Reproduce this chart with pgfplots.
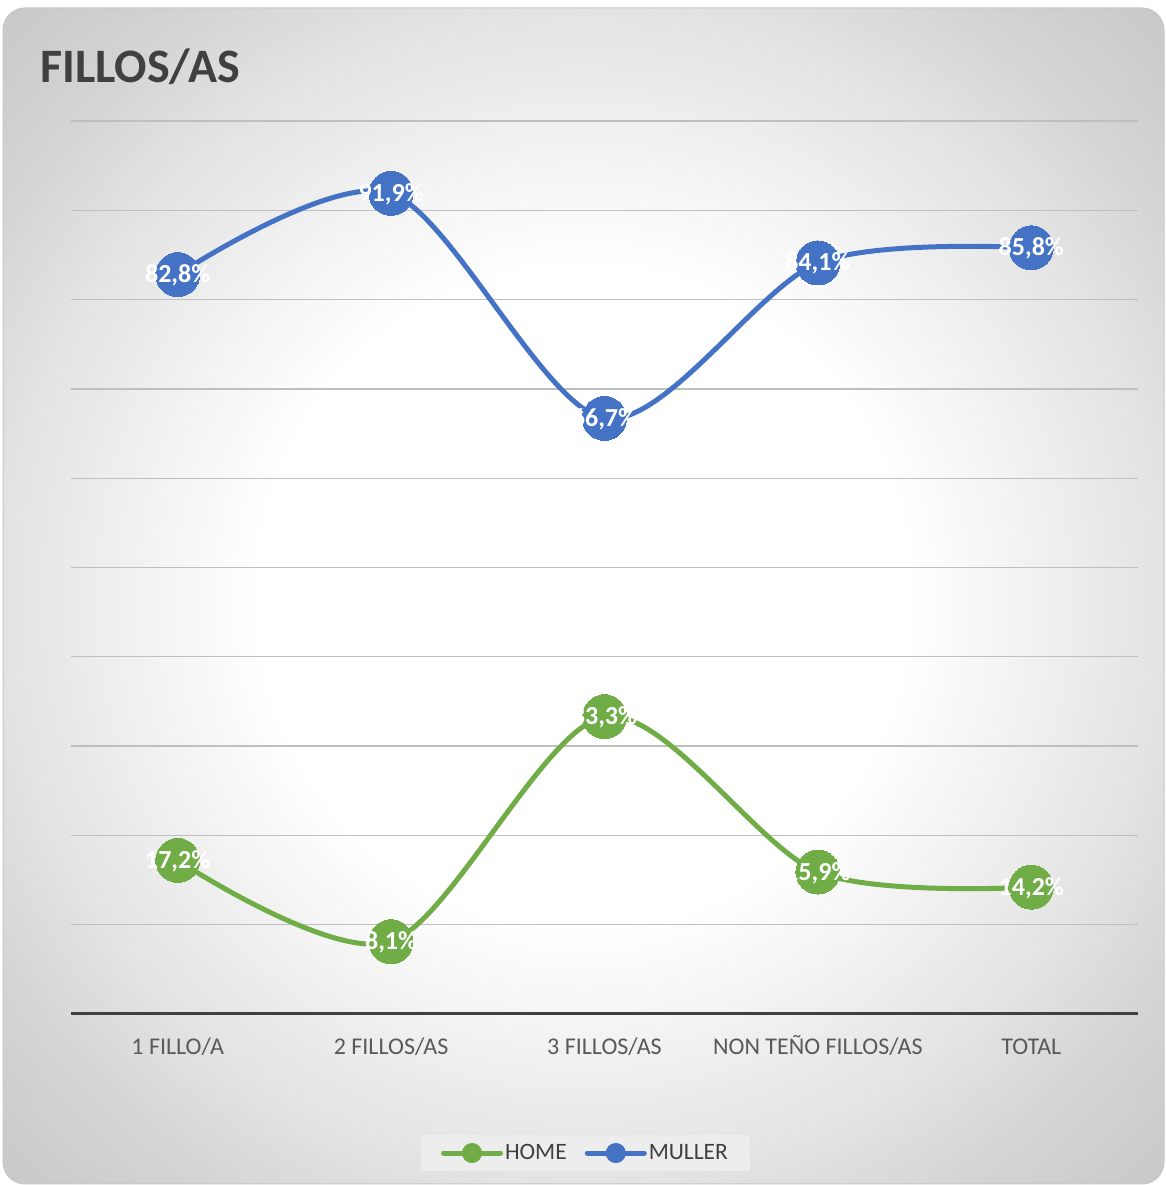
\documentclass[border=0pt]{standalone}
\usepackage{fontspec}
\setmainfont{Carlito}
\usepackage{pgfplots}
\pgfplotsset{compat=1.18}
\definecolor{cblue}{HTML}{4472C4}
\definecolor{cgreen}{HTML}{70AD47}
\definecolor{ctxt}{HTML}{404040}
\definecolor{ctick}{HTML}{595959}
\definecolor{cgrid}{HTML}{BFBFBF}
\pgfdeclareradialshading{bgshade}{\pgfpoint{0bp}{0bp}}{color(0bp)=(white); color(14bp)=(white); color(22bp)=(black!8); color(25bp)=(black!11); color(30bp)=(black!17); color(36bp)=(black!22); color(50bp)=(black!22)}
\begin{document}
\begin{tikzpicture}
\useasboundingbox (0pt,0pt) rectangle (1165pt,1185pt);
\shade[shading=bgshade, rounded corners=22pt] (3pt,1pt) rectangle (1164pt,1177pt);
\draw[black!22, line width=1pt, rounded corners=22pt] (3pt,1pt) rectangle (1164pt,1177pt);
\node[anchor=base west, text=ctxt, font=\bfseries\fontsize{48}{58}\selectfont, inner sep=0pt] at (40pt,1102pt) {FILLOS/AS};
\begin{axis}[
  at={(71pt,171pt)}, anchor=south west,
  width=1067pt, height=893pt, scale only axis,
  xmin=-0.5, xmax=4.5, ymin=0, ymax=100,
  clip=false,
  axis x line*=bottom, axis y line*=left,
  x axis line style={draw=ctxt, line width=3pt},
  y axis line style={draw=none},
  ytick={10,20,...,100}, yticklabels={},
  ymajorgrids, grid style={draw=cgrid, line width=1.3pt},
  major tick length=0pt,
  xtick={0,1,2,3,4},
  xticklabels={1 FILLO/A, 2 FILLOS/AS, 3 FILLOS/AS, NON TEÑO FILLOS/AS, TOTAL},
  xticklabel style={text=ctick, font=\fontsize{24}{28}\selectfont, anchor=base, inner sep=0pt, yshift=-40pt},
  point meta=y,
  nodes near coords={\pgfmathprintnumber[fixed,fixed zerofill,precision=1,use comma,assume math mode=true]{\pgfplotspointmeta}\%},
  every node near coord/.append style={anchor=center, text=white, font=\bfseries\fontsize{26}{30}\selectfont, text height=16pt, text depth=0pt, inner sep=0pt},
  legend style={at={(0.4822,-0.1557)}, anchor=center, fill=black!7, draw=none,
    font=\fontsize{23.5}{28}\selectfont, text=ctxt, inner xsep=20pt, inner ysep=8pt,
    /tikz/every even column/.append style={column sep=16pt}},
  legend columns=2,
]
\addplot[color=cgreen, line width=5pt, smooth, tension=0.5, line cap=round,
  mark=*, mark size=22pt, mark options={solid, line width=0pt, fill=cgreen, draw=cgreen},
  legend image code/.code={\draw[cgreen, line width=5pt, line cap=round] (0pt,0pt) -- (57pt,0pt); \fill[cgreen] (28.5pt,0pt) circle (7.5pt);}]
  coordinates {(0,17.2) (1,8.1) (2,33.3) (3,15.9) (4,14.2)};
\addlegendentry{HOME}
\addplot[color=cblue, line width=5pt, smooth, tension=0.5, line cap=round,
  mark=*, mark size=22pt, mark options={solid, line width=0pt, fill=cblue, draw=cblue},
  legend image code/.code={\draw[cblue, line width=5pt, line cap=round] (0pt,0pt) -- (57pt,0pt); \fill[cblue] (28.5pt,0pt) circle (7.5pt);}]
  coordinates {(0,82.8) (1,91.9) (2,66.7) (3,84.1) (4,85.8)};
\addlegendentry{MULLER}
\end{axis}
\end{tikzpicture}
\end{document}
